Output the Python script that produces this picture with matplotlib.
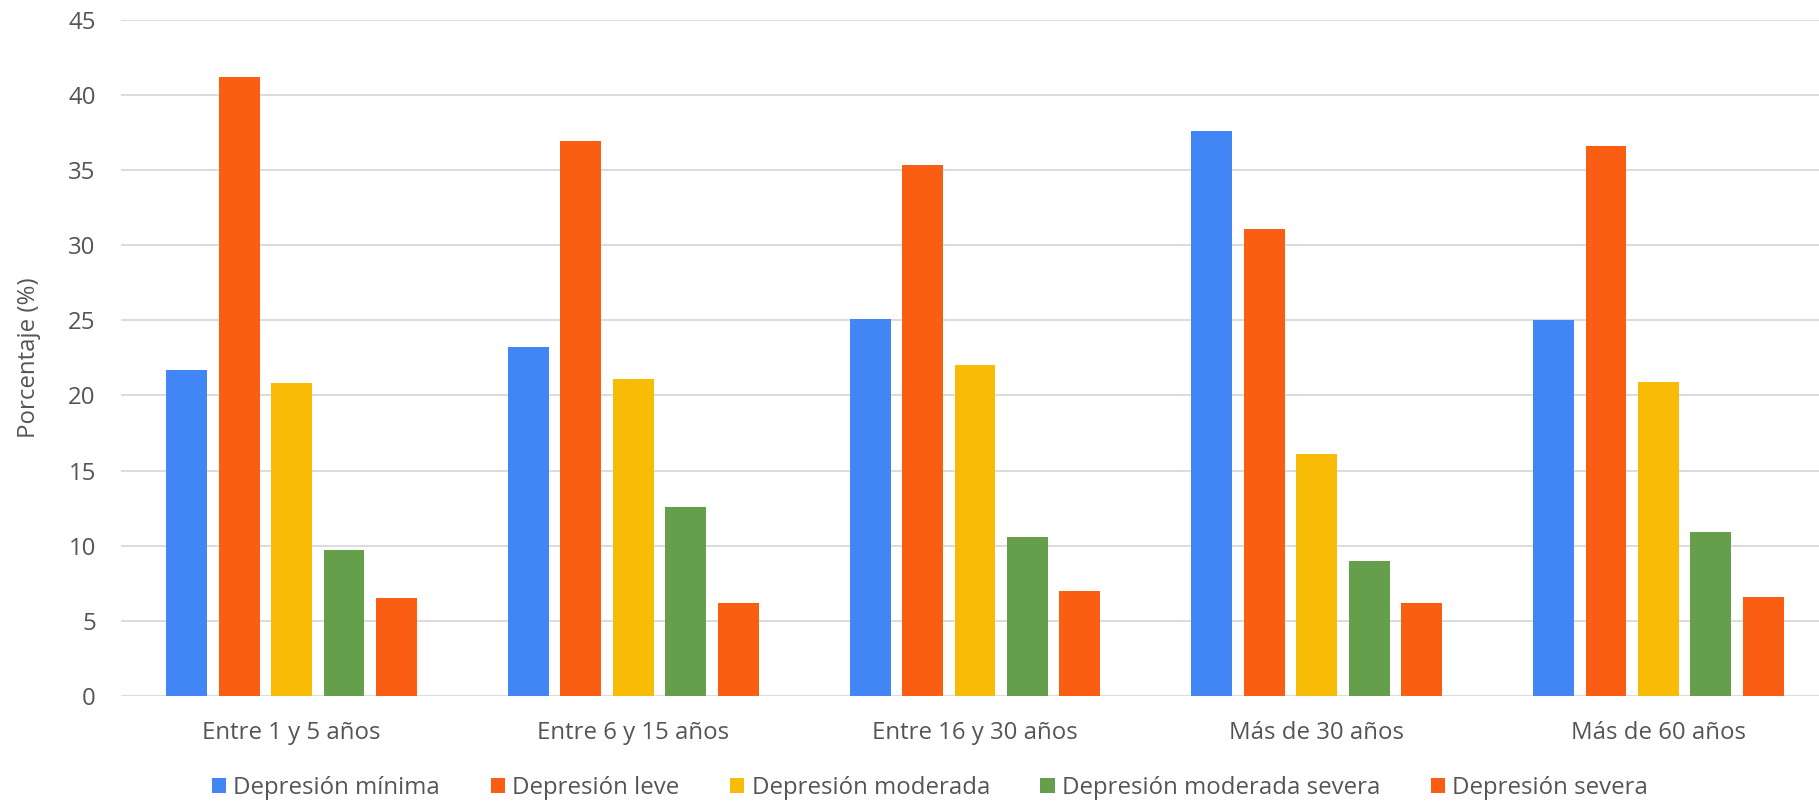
import numpy as np
import matplotlib
matplotlib.use('agg')
import matplotlib.pyplot as plt
from matplotlib.patches import Patch

plt.rcParams['font.family'] = ['Open Sans', 'DejaVu Sans']

groups = ["Entre 1 y 5 años", "Entre 6 y 15 años", "Entre 16 y 30 años",
          "Más de 30 años", "Más de 60 años"]
series = ["Depresión mínima", "Depresión leve", "Depresión moderada",
          "Depresión moderada severa", "Depresión severa"]
minima = [21.7, 23.2, 25.1, 37.6, 25.0]
leve = [41.2, 36.9, 35.3, 31.1, 36.6]
moderada = [20.8, 21.1, 22.0, 16.1, 20.9]
mod_severa = [9.7, 12.6, 10.6, 9.0, 10.9]
severa = [6.5, 6.2, 7.0, 6.2, 6.6]
colors = ["#4285F4", "#F95E13", "#F9BC06", "#669F4C", "#F95E13"]

values = [minima, leve, moderada, mod_severa, severa]
text_col = "#555555"
fs = 17.3

fig = plt.figure(figsize=(18.19, 8.02), dpi=100)
ax = fig.add_axes([0.0664, 0.1322, 0.9336, 0.8432])

x = np.arange(len(groups))
w = 0.1195
step = 0.1534
for i, (vals, c) in enumerate(zip(values, colors)):
    ax.bar(x + (i - 2) * step, vals, width=w, color=c, zorder=3)

ax.set_xlim(-0.5, 4.47)
ax.set_ylim(0, 45)
ax.set_yticks(np.arange(0, 46, 5))
ax.set_xticks(x)
ax.set_xticklabels(groups)
ax.grid(axis='y', color="#d9d9d9", linewidth=1.3, zorder=0)
for s in ['top', 'right', 'left', 'bottom']:
    ax.spines[s].set_visible(False)
ax.tick_params(length=0, labelsize=fs, colors=text_col)
ax.tick_params(axis='y', pad=18)
ax.tick_params(axis='x', pad=18)
ax.set_ylabel("Porcentaje (%)", fontsize=fs, color=text_col, labelpad=20)

handles = [Patch(facecolor=c) for c in colors]
fig.legend(handles, series, loc='center', bbox_to_anchor=(930 / 1819, 1 - 788 / 802),
           ncol=5, frameon=False, fontsize=fs, labelcolor=text_col,
           handlelength=0.6, handleheight=0.6, handletextpad=0.3, columnspacing=2.1)

plt.savefig("out.png")
